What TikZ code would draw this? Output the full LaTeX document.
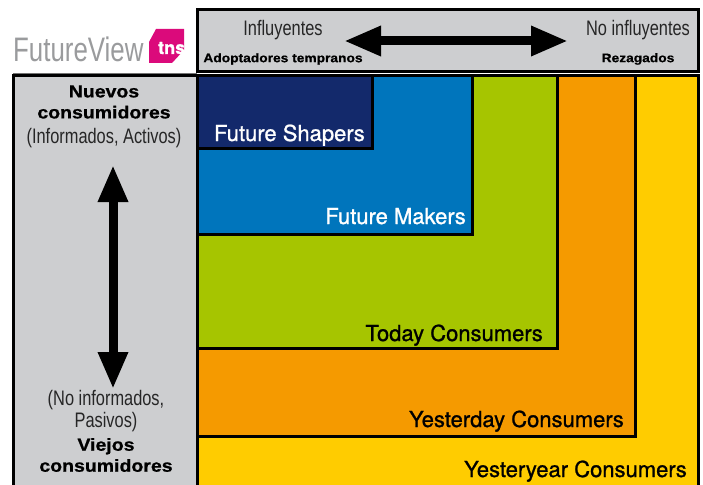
\documentclass[tikz,border=0pt]{standalone}
\usepackage{fontspec}
\usepackage{xcolor}
\setmainfont[FakeBold=1.0]{TeX Gyre Heros}
\newfontfamily\lightfont[FakeStretch=0.78]{Liberation Sans}
\newfontfamily\logofont[FakeStretch=0.76]{Liberation Sans}
\newfontfamily\widefont[FakeStretch=1.12,BoldFeatures={FakeBold=0.8}]{Liberation Sans}
\usetikzlibrary{arrows.meta}
\definecolor{panelgray}{HTML}{CDCED0}
\definecolor{navybox}{HTML}{13296B}
\definecolor{bluebox}{HTML}{0075BC}
\definecolor{greenbox}{HTML}{A6C500}
\definecolor{orangebox}{HTML}{F59A00}
\definecolor{yellowbox}{HTML}{FFCC00}
\definecolor{tnspink}{HTML}{DB0A7B}
\definecolor{logogray}{HTML}{9A9B9D}
\begin{document}
\begin{tikzpicture}[x=1pt,y=-1pt,
    box/.style={draw=black,line width=3pt},
    thin text/.style={font=\lightfont\fontsize{21}{22}\selectfont,text=black!85,align=center,inner sep=0pt},
    side title/.style={font=\widefont\bfseries\fontsize{17.4}{21}\selectfont,align=center,inner sep=0pt},
    top title/.style={font=\widefont\bfseries\fontsize{12.3}{14}\selectfont,inner sep=0pt},
    consumer/.style={font=\fontsize{22}{24}\selectfont,anchor=base east,inner sep=0pt},
    big arrow/.style={line width=9pt,{Triangle[length=37pt,width=28pt]}-{Triangle[length=37pt,width=28pt]}}
  ]
  \useasboundingbox (0,0) rectangle (703,484);

  % logo
  \node[anchor=base west,inner sep=0pt,text=logogray,font=\logofont\fontsize{34}{36}\selectfont] (logo) at (13,62) {FutureView};
  \fill[tnspink] (156,29) -- (184,29) -- (184,50) -- (172,63) -- (149,63) -- (149,42) -- cycle;
  \begin{scope}
    \clip (149,29) rectangle (184,63);
    \node[anchor=base west,inner sep=0pt,text=white,font=\bfseries\fontsize{18}{19}\selectfont] (tns) at (158,54) {tns};
  \end{scope}

  % panels
  \draw[box,fill=panelgray] (197,10) rectangle (698,72);
  \draw[line width=1.5pt,black!55] (13,73.5) -- (197,73.5);
  \draw[box,fill=panelgray] (13,76) rectangle (197,495);

  % nested boxes
  \draw[box,fill=yellowbox] (197,76) rectangle (698,495);
  \draw[box,fill=orangebox] (197,76) rectangle (635,436);
  \draw[box,fill=greenbox] (197,76) rectangle (557,348);
  \draw[box,fill=bluebox] (197,76) rectangle (472,234);
  \draw[box,fill=navybox] (197,76) rectangle (372,148);

  % box labels
  \node[consumer,text=white] (shapers) at (365,141) {Future Shapers};
  \node[consumer,text=white] (makers) at (466,224) {Future Makers};
  \node[consumer] (today) at (543,341) {Today Consumers};
  \node[consumer] (yesterday) at (624,427) {Yesterday Consumers};
  \node[consumer] (yesteryear) at (687,477) {Yesteryear Consumers};

  % top panel
  \node[thin text] (influ) at (283,30) {Influyentes};
  \node[thin text] (noinflu) at (638,30) {No influyentes};
  \node[top title] (early) at (283,59) {Adoptadores tempranos};
  \node[top title] (late) at (638,59) {Rezagados};
  \coordinate (hleft) at (344,41);
  \coordinate (hright) at (568,41);
  \draw[big arrow] (hleft) -- (hright);

  % left panel
  \node[side title] (newc) at (104,102) {Nuevos\\consumidores};
  \node[thin text] (informed) at (104,138) {(Informados, Activos)};
  \coordinate (vtop) at (113,165);
  \coordinate (vbottom) at (113,389);
  \draw[big arrow] (vtop) -- (vbottom);
  \node[thin text] (uninformed) at (106,411) {(No informados,\\Pasivos)};
  \node[side title] (oldc) at (106,455) {Viejos\\consumidores};
\end{tikzpicture}
\end{document}
